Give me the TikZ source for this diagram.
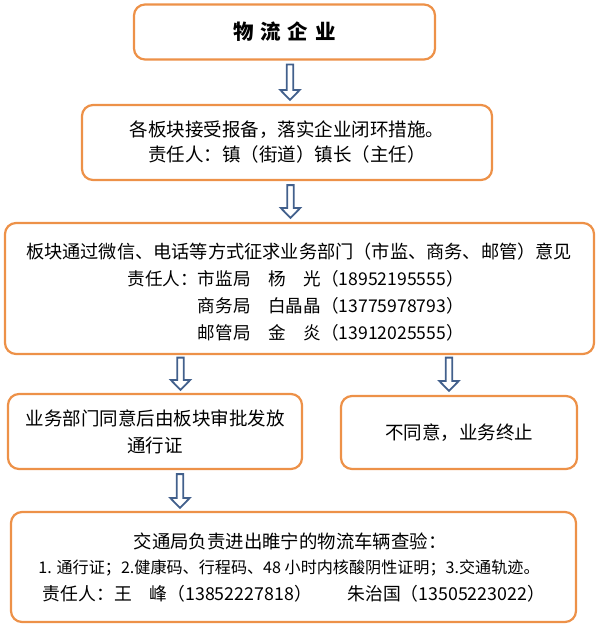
\documentclass[tikz,border=0pt]{standalone}
\usepackage{fontspec}
\newfontfamily\cjk{Noto Sans CJK SC}
\usetikzlibrary{positioning, calc}

\definecolor{boxorange}{RGB}{237,145,72}
\definecolor{arrowblue}{RGB}{66,96,140}

\begin{document}
\begin{tikzpicture}[x=1pt, y=-1pt,
    box/.style={draw=boxorange, line width=2.2pt, rounded corners=11pt, fill=white,
      align=center, inner sep=0pt, font=\cjk\fontsize{18.5}{27}\selectfont},
    boxline/.style={inner sep=0pt, font=\cjk\fontsize{17.6}{20}\selectfont},
    smallline/.style={inner sep=0pt, font=\cjk\fontsize{16.1}{18}\selectfont},
    blockarrow/.style={draw=arrowblue, line width=1.8pt, fill=white,
      to path={let \p1=(\tikztostart), \p2=(\tikztotarget) in
        (\x1-3.3pt,\y1) -- (\x1-3.3pt,\y2+10pt) -- (\x1-9.8pt,\y2+10pt) -- (\x1,\y2)
        -- (\x1+9.8pt,\y2+10pt) -- (\x1+3.3pt,\y2+10pt) -- (\x1+3.3pt,\y1) -- cycle}}]
  \useasboundingbox (0,0) rectangle (598,626);

  % boxes
  \node[box, minimum width=301pt, minimum height=55pt,
    font=\cjk\bfseries\fontsize{20.5}{25}\selectfont] (firm) at (284.5,32)
    {物\hspace{7pt}流\hspace{7pt}企\hspace{7pt}业};
  \node[box, minimum width=410pt, minimum height=75pt,
    font=\cjk\fontsize{18.5}{25}\selectfont] (filing) at (287,142.5)
    {各板块接受报备，落实企业闭环措施。\\责任人：镇（街道）镇长（主任）};
  \node[box, minimum width=589pt, minimum height=131pt] (consult) at (299.5,288.5) {};
  \node[box, minimum width=294pt, minimum height=75pt] (approve) at (155,431.5)
    {业务部门同意后由板块审批发放\\通行证};
  \node[box, minimum width=236pt, minimum height=73pt] (refuse) at (459,432.5)
    {不同意，业务终止};
  \node[box, minimum width=565pt, minimum height=110pt] (check) at (293.5,567) {};

  % text lines
  \node[boxline, font=\cjk\fontsize{18.2}{20}\selectfont] (consult-l1) at (299,252)
    {板块通过微信、电话等方式征求业务部门（市监、商务、邮管）意见};
  \node[boxline, anchor=east] (consult-l2) at (464,279)
    {责任人：市监局　杨　光（18952195555）};
  \node[boxline, anchor=east] (consult-l3) at (464,306)
    {商务局　白晶晶（13775978793）};
  \node[boxline, anchor=east] (consult-l4) at (464,333)
    {邮管局　金　炎（13912025555）};

  \node[boxline, font=\cjk\fontsize{18.4}{20}\selectfont] (check-l1) at (290,541)
    {交通局负责进出睢宁的物流车辆查验：};
  \node[smallline] (check-l2) at (289,568)
    {1. 通行证；2.健康码、行程码、48 小时内核酸阴性证明；3.交通轨迹。};
  \node[boxline, font=\cjk\fontsize{17.8}{20}\selectfont] (check-l3) at (294,594)
    {责任人：王　峰（13852227818）　　朱治国（13505223022）};

  % arrows
  \draw[blockarrow] ([xshift=5.5pt,yshift=-4pt]firm.south) to ([yshift=4pt]filing.north);
  \draw[blockarrow] ([xshift=3.5pt,yshift=-4pt]filing.south) to ([yshift=4pt]consult.north);
  \draw[blockarrow] ([xshift=-119pt,yshift=-2.5pt]consult.south) to ([yshift=3pt]approve.north);
  \draw[blockarrow] ([xshift=149.5pt,yshift=-2.5pt]consult.south) to ([yshift=4pt]refuse.north);
  \draw[blockarrow] ([xshift=25pt,yshift=-4pt]approve.south) to ([yshift=3pt]check.north);
\end{tikzpicture}
\end{document}
